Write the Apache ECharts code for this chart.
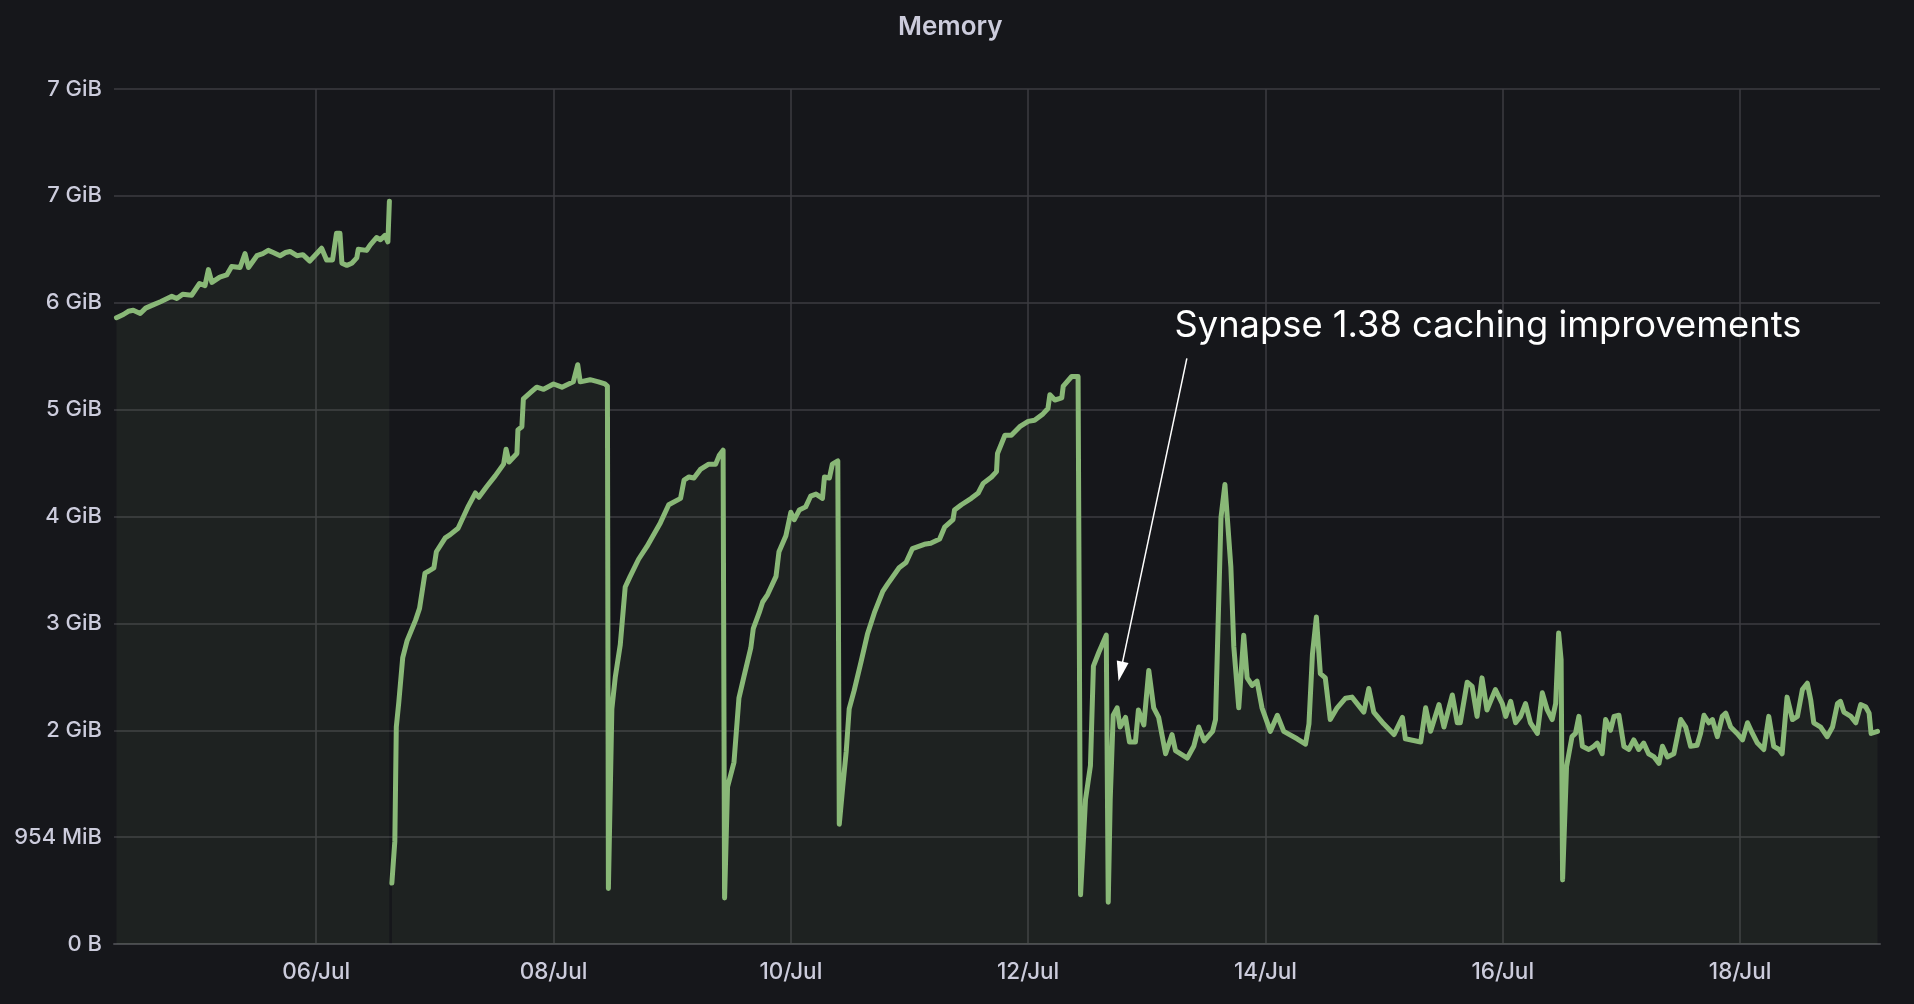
<!DOCTYPE html>
<html>
<head>
<meta charset="utf-8">
<script src="https://cdn.jsdelivr.net/npm/echarts@6/dist/echarts.min.js"></script>
<style>
html,body{margin:0;padding:0;background:#16171b;}
#chart{width:1914px;height:1004px;}
</style>
</head>
<body>
<div id="chart"></div>
<script>
// Time in hours since 04/Jul 00:00; memory in units of 1e9 bytes
const xTickHours = [48, 96, 144, 192, 240, 288, 336];
const xTickLabels = ['06/Jul', '08/Jul', '10/Jul', '12/Jul', '14/Jul', '16/Jul', '18/Jul'];
const yTickLabels = ['0 B', '954 MiB', '2 GiB', '3 GiB', '4 GiB', '5 GiB', '6 GiB', '7 GiB', '7 GiB'];

const memHours = [
  7.6, 9.0, 10.0, 11.0, 12.4, 13.5, 15.0, 16.5, 18.8, 19.8, 21.0, 22.8, 24.4, 25.5, 26.2, 26.9, 28.5, 29.9, 30.9, 32.6, 33.6, 34.3, 36.0, 37.2, 38.3, 39.3, 40.7,
  41.8, 42.7, 44.1, 45.3, 46.7, 49.1, 50.1, 51.3, 52.1, 52.8, 53.2, 54.2, 55.2, 56.2, 56.5, 58.2, 58.9, 60.2, 61.0, 61.9, 62.5, 62.8,
  63.0,
  63.3, 63.9, 64.2, 64.7, 65.5, 66.4, 68.1, 68.9, 70.0, 70.8, 71.8, 72.3, 74.1, 75.1, 76.7, 78.8, 80.2, 80.9, 82.5, 84.2,
  85.9, 86.4, 87.0, 88.6, 88.8, 89.6, 89.9, 91.6, 92.6, 94.0, 96.0, 97.7, 100.0, 100.9, 101.4, 103.4, 105.1, 106.4, 106.9, 107.1,
  107.8, 108.5, 109.5, 110.5, 111.5, 113.2, 114.9, 117.6, 119.3, 121.7, 122.4, 123.4, 124.4, 125.7, 127.4, 128.8, 129.5, 130.3, 130.6,
  131.2, 132.5, 133.5, 134.5, 135.9, 136.4, 137.6, 138.3, 139.3, 141.0, 141.6, 143.0, 144.0, 144.7, 145.7, 147.0, 148.0, 149.1, 150.4,
  150.8, 151.8, 152.4, 153.5, 153.8,
  154.5, 155.2, 155.8, 156.8, 158.2, 159.5, 160.9, 162.6, 163.6, 165.9, 167.3, 168.6, 171.0, 172.3, 174.1, 175.1, 176.8, 177.1, 178.5,
  180.5, 181.9, 182.9, 184.6, 185.6, 185.8, 187.3, 188.6, 190.3, 192.0, 193.3, 195.0, 196.0, 196.4, 197.4, 198.8, 199.1, 200.8, 202.1, 202.6,
  203.6, 204.6, 205.2, 206.3, 207.8, 208.2, 208.6, 209.2, 210.0, 210.6, 211.7, 212.5, 213.7, 214.3, 215.4, 216.4, 217.4, 218.4, 219.8,
  221.1, 221.8, 224.2, 225.5, 226.5, 227.6, 229.3, 229.9, 231.0, 231.8, 233.0, 233.6, 234.6, 235.6, 236.3, 237.3, 238.3, 239.3, 241.0,
  242.4, 243.7, 246.4, 248.1, 248.8, 249.5, 250.3, 251.1, 252.1, 253.1, 254.5, 256.2, 257.5, 259.9, 260.9, 261.9, 263.9, 266.0, 267.7,
  268.3, 271.4, 272.4, 273.4, 275.1, 276.1, 277.8, 278.8, 279.4, 280.8, 281.8, 282.8, 283.8, 284.8, 286.5, 287.9, 288.6, 289.6, 290.6,
  291.6, 292.6, 293.6, 295.0, 296.0, 297.0, 298.0, 298.7, 299.3, 299.8, 300.1, 300.9, 302.0, 302.7, 303.4, 304.1, 305.4, 306.4, 307.1,
  308.1, 308.8, 309.8, 310.5, 311.5, 312.5, 313.5, 314.5, 315.5, 316.5, 317.5, 318.6, 319.6, 320.3, 321.3, 322.6, 324.0, 325.0, 326.0,
  327.3, 328.0, 328.7, 329.7, 330.4, 331.4, 332.4, 333.1, 334.1, 335.4, 336.5, 337.5, 338.5, 339.5, 340.8, 341.8, 342.8, 343.9, 344.5,
  345.5, 346.6, 347.6, 348.6, 349.6, 350.3, 350.9, 352.3, 353.6, 354.7, 355.7, 356.3, 357.0, 358.4, 359.4, 360.4, 361.4, 362.1, 362.5, 363.8
];
const memValues = [
  5.86, 5.89, 5.92, 5.93, 5.90, 5.95, 5.98, 6.01, 6.06, 6.04, 6.08, 6.07, 6.18, 6.16, 6.31, 6.19, 6.24, 6.26, 6.34, 6.33, 6.46, 6.33, 6.44, 6.46, 6.49, 6.47, 6.44,
  6.47, 6.48, 6.44, 6.45, 6.39, 6.51, 6.40, 6.40, 6.65, 6.65, 6.37, 6.35, 6.37, 6.42, 6.50, 6.49, 6.54, 6.61, 6.59, 6.63, 6.57, 6.95,
  null,
  0.57, 0.96, 2.03, 2.26, 2.68, 2.84, 3.03, 3.14, 3.47, 3.49, 3.52, 3.67, 3.80, 3.83, 3.89, 4.10, 4.22, 4.18, 4.28, 4.38,
  4.49, 4.63, 4.51, 4.59, 4.81, 4.84, 5.10, 5.17, 5.21, 5.19, 5.24, 5.21, 5.26, 5.42, 5.26, 5.28, 5.26, 5.24, 5.22, 0.52,
  2.20, 2.50, 2.80, 3.34, 3.44, 3.60, 3.72, 3.94, 4.11, 4.17, 4.34, 4.37, 4.36, 4.44, 4.49, 4.49, 4.57, 4.62, 0.43,
  1.47, 1.70, 2.30, 2.50, 2.77, 2.95, 3.10, 3.20, 3.27, 3.44, 3.67, 3.82, 4.04, 3.97, 4.06, 4.09, 4.19, 4.21, 4.17,
  4.37, 4.36, 4.49, 4.52, 1.12,
  1.47, 1.80, 2.20, 2.37, 2.64, 2.90, 3.10, 3.30, 3.37, 3.52, 3.57, 3.70, 3.74, 3.75, 3.79, 3.90, 3.97, 4.06, 4.11,
  4.17, 4.22, 4.31, 4.37, 4.42, 4.59, 4.76, 4.76, 4.84, 4.89, 4.90, 4.96, 5.01, 5.14, 5.09, 5.11, 5.22, 5.31, 5.31, 0.46,
  1.35, 1.67, 2.60, 2.73, 2.89, 0.39, 1.35, 2.14, 2.21, 2.03, 2.12, 1.89, 1.89, 2.19, 2.05, 2.56, 2.21, 2.12, 1.78,
  1.96, 1.81, 1.74, 1.85, 2.03, 1.90, 1.99, 2.10, 3.99, 4.30, 3.53, 2.78, 2.21, 2.89, 2.49, 2.42, 2.46, 2.21, 1.99,
  2.14, 1.99, 1.92, 1.87, 2.06, 2.71, 3.06, 2.53, 2.49, 2.10, 2.21, 2.30, 2.31, 2.17, 2.39, 2.17, 2.06, 1.96, 2.12,
  1.92, 1.89, 2.21, 1.99, 2.24, 2.03, 2.33, 2.07, 2.07, 2.45, 2.41, 2.13, 2.49, 2.19, 2.38, 2.25, 2.13, 2.27, 2.07,
  2.13, 2.25, 2.07, 1.97, 2.35, 2.19, 2.10, 2.25, 2.91, 2.66, 0.60, 1.66, 1.94, 1.97, 2.13, 1.85, 1.82, 1.85, 1.88,
  1.78, 2.10, 2.00, 2.13, 2.14, 1.85, 1.82, 1.91, 1.82, 1.88, 1.78, 1.75, 1.69, 1.85, 1.75, 1.78, 2.10, 2.03, 1.85,
  1.86, 1.97, 2.14, 2.07, 2.10, 1.94, 2.13, 2.16, 2.03, 1.97, 1.91, 2.07, 1.97, 1.88, 1.82, 2.13, 1.85, 1.82, 1.78,
  2.31, 2.10, 2.13, 2.38, 2.44, 2.28, 2.07, 2.03, 1.94, 2.03, 2.25, 2.27, 2.17, 2.13, 2.07, 2.24, 2.22, 2.16, 1.97, 1.99
];

const annotationText = 'Synapse 1.38 caching improvements';
const annotationAnchor = [221.6, 5.78];
const arrowFrom = [224.1, 5.48];
const arrowTo = [210.7, 2.55];

const xMin = 7.1, xMax = 364.3;

const lineColor = '#89b877';
const textColor = '#ccccdc';
const gridColor = '#3c3d42';

const seriesData = memHours.map((h, i) => [h, memValues[i]]);

const chart = echarts.init(document.getElementById('chart'), null, {renderer: 'canvas'});
chart.setOption({
  backgroundColor: '#16171b',
  animation: false,
  textStyle: {fontFamily: 'Inter'},
  title: {
    text: 'Memory',
    left: 893,
    top: 9,
    textStyle: {color: textColor, fontSize: 26, fontWeight: 600, fontFamily: 'Inter'}
  },
  grid: {left: 114, right: 34, top: 89, bottom: 60, containLabel: false},
  xAxis: {
    type: 'value',
    min: xMin,
    max: xMax,
    axisLine: {show: true, lineStyle: {color: '#46474c', width: 2}},
    axisTick: {show: false, customValues: xTickHours},
    axisLabel: {
      customValues: xTickHours,
      color: textColor,
      fontSize: 22.5,
      fontWeight: 500,
      fontFamily: 'Inter',
      margin: 17,
      formatter: v => xTickLabels[xTickHours.indexOf(v)] || ''
    },
    splitLine: {show: true, lineStyle: {color: gridColor, width: 1.5}}
  },
  yAxis: {
    type: 'value',
    min: 0,
    max: 8,
    interval: 1,
    axisLine: {show: false},
    axisTick: {show: false},
    axisLabel: {
      color: textColor,
      fontSize: 22,
      fontWeight: 500,
      fontFamily: 'Inter',
      margin: 12,
      formatter: v => yTickLabels[Math.round(v)]
    },
    splitLine: {show: true, lineStyle: {color: gridColor, width: 1.5}}
  },
  series: [{
    type: 'line',
    data: seriesData,
    showSymbol: false,
    connectNulls: false,
    lineStyle: {color: lineColor, width: 5, join: 'round', cap: 'round'},
    itemStyle: {color: lineColor},
    areaStyle: {color: 'rgba(137,184,119,0.1)'},
    markLine: {
      silent: true,
      symbol: ['none', 'triangle'],
      symbolSize: [12, 20],
      lineStyle: {color: '#ffffff', width: 1.5, type: 'solid'},
      label: {show: false},
      data: [[{coord: arrowFrom}, {coord: arrowTo}]]
    },
    markPoint: {
      silent: true,
      symbol: 'circle',
      symbolSize: 0,
      data: [{
        coord: annotationAnchor,
        label: {
          show: true,
          position: 'right',
          distance: 0,
          formatter: annotationText,
          color: '#ffffff',
          fontSize: 36.3,
          fontFamily: 'Inter',
          fontWeight: 400,
          align: 'left',
          verticalAlign: 'middle'
        }
      }]
    }
  }]
});
</script>
</body>
</html>
